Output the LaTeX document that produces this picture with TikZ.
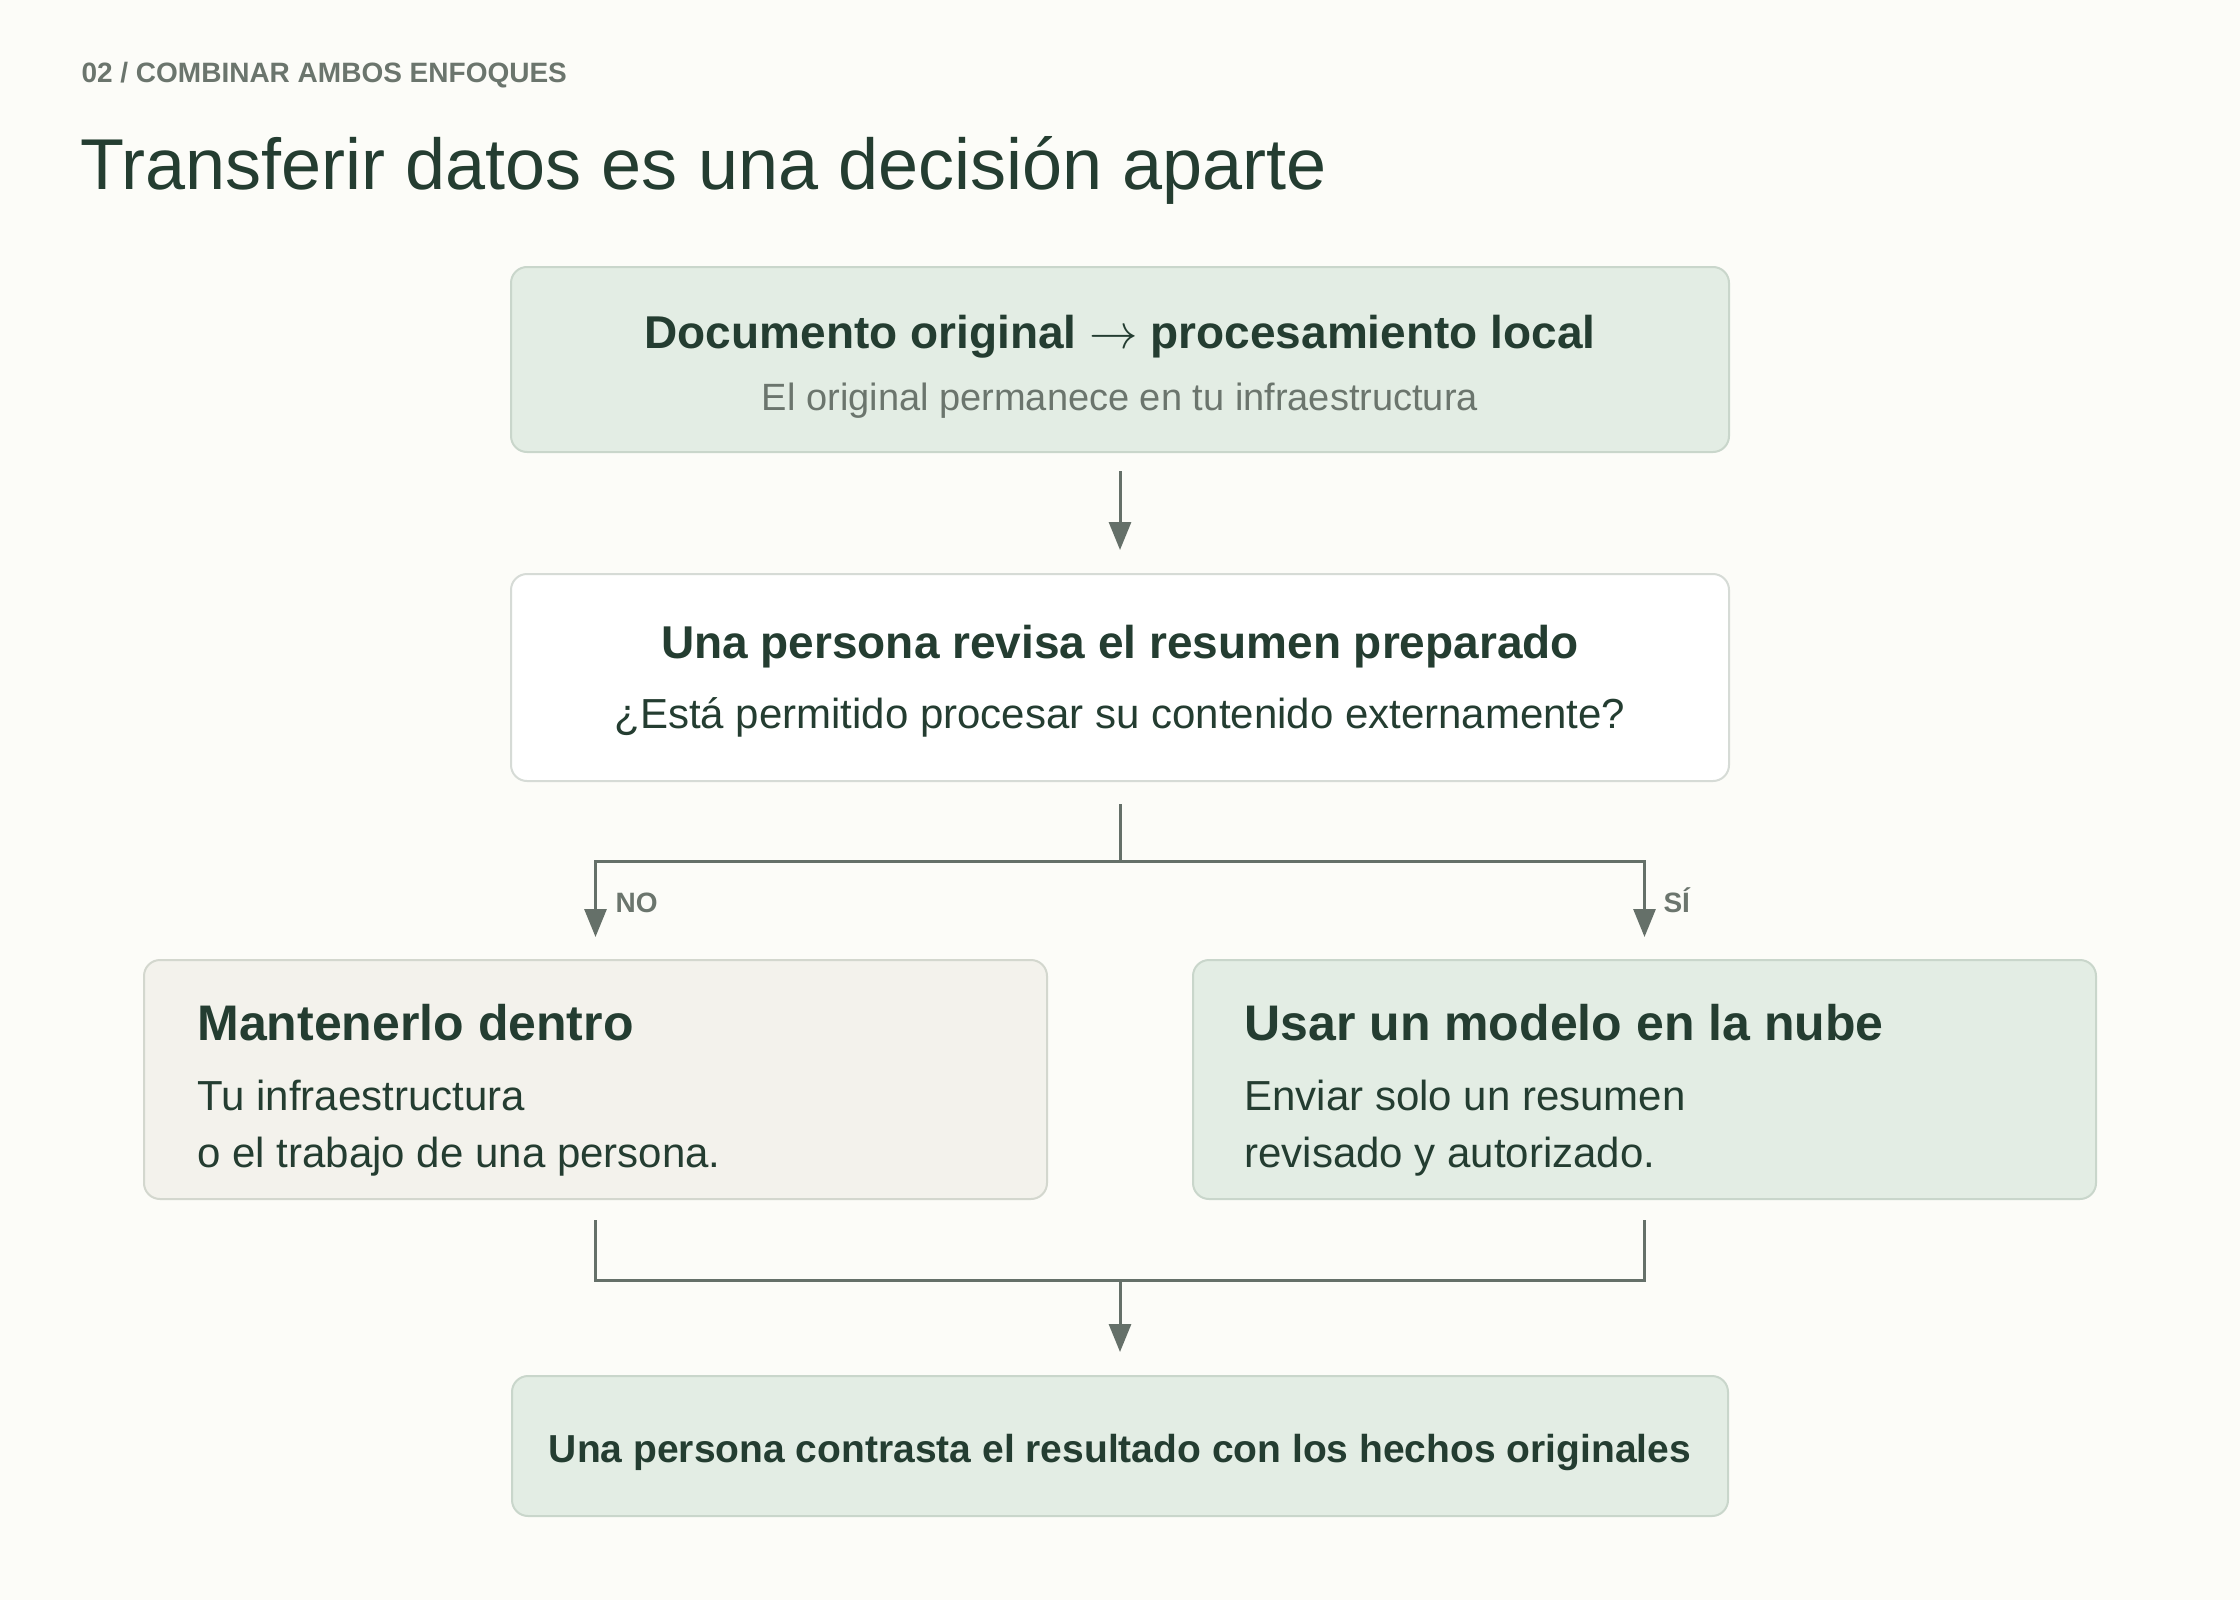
\documentclass[tikz,border=0pt]{standalone}
\usepackage{graphicx}
\usepackage{fontspec}
\setmainfont{Liberation Sans}
\usetikzlibrary{arrows.meta}
\definecolor{bg}{HTML}{FCFCF8}
\definecolor{darktext}{HTML}{243D31}
\definecolor{graytext}{HTML}{6B756D}
\definecolor{linegray}{HTML}{657069}
\definecolor{boxgreen}{HTML}{E3EDE4}
\definecolor{bordergreen}{HTML}{C9D6CB}
\definecolor{boxbeige}{HTML}{F3F2EC}
\definecolor{borderbeige}{HTML}{D3D7CE}
\definecolor{borderwhite}{HTML}{D6DBD6}
\begin{document}
\begin{tikzpicture}[x=1pt,y=-1pt,
  box/.style={draw, line width=2pt, rounded corners=16pt, inner sep=0pt, outer sep=0pt},
  greenbox/.style={box, fill=boxgreen, draw=bordergreen},
  beigebox/.style={box, fill=boxbeige, draw=borderbeige},
  whitebox/.style={box, fill=white, draw=borderwhite},
  conn/.style={draw=linegray, line width=3pt},
  arr/.style={conn, -{Triangle[width=22pt,length=28pt]}},
  boxtitle/.style={font=\fontsize{46}{55}\selectfont\bfseries, text=darktext, anchor=base},
  sidetitle/.style={font=\fontsize{50}{60}\selectfont\bfseries, text=darktext, anchor=base west},
  bodytext/.style={font=\fontsize{42}{50}\selectfont, text=darktext},
  smalllabel/.style={font=\fontsize{28}{34}\selectfont\bfseries, text=graytext, anchor=base west}
]
\useasboundingbox (0,0) rectangle (2240,1600);
\fill[bg] (0,0) rectangle (2240,1600);

% header
\node[smalllabel] (kicker) at (78,83) {02 / COMBINAR AMBOS ENFOQUES};
\node[font=\fontsize{72}{86}\selectfont, text=darktext, anchor=base west] (title) at (77,189) {Transferir datos es una decisión aparte};

% boxes
\node[greenbox, minimum width=1218pt, minimum height=185pt] (b1) at (1120,359.5) {};
\node[whitebox, minimum width=1218pt, minimum height=207pt] (b2) at (1120,677.5) {};
\node[beigebox, minimum width=903pt, minimum height=239pt] (b3) at (595.5,1079.5) {};
\node[greenbox, minimum width=903pt, minimum height=239pt] (b4) at (1644.5,1079.5) {};
\node[greenbox, minimum width=1216pt, minimum height=140pt] (b5) at (1120,1446) {};

% box texts
\node[boxtitle] (b1t) at (1120,348) {Documento original \scalebox{1.95}{$\rightarrow$} procesamiento local};
\node[font=\fontsize{38}{45}\selectfont, text=graytext, anchor=base] (b1s) at (1120,410) {El original permanece en tu infraestructura};

\node[boxtitle] (b2t) at (1120,658) {Una persona revisa el resumen preparado};
\node[bodytext, anchor=base] (b2s) at (1120,728) {¿Está permitido procesar su contenido externamente?};

\node[sidetitle] (b3t) at (194,1040) {Mantenerlo dentro};
\node[bodytext, anchor=base west] (b3a) at (194,1110) {Tu infraestructura};
\node[bodytext, anchor=base west] (b3b) at (194,1167) {o el trabajo de una persona.};

\node[sidetitle] (b4t) at (1241,1040) {Usar un modelo en la nube};
\node[bodytext, anchor=base west] (b4a) at (1241,1110) {Enviar solo un resumen};
\node[bodytext, anchor=base west] (b4b) at (1241,1167) {revisado y autorizado.};

\node[font=\fontsize{39}{47}\selectfont\bfseries, text=darktext, anchor=base] (b5t) at (1120,1462) {Una persona contrasta el resultado con los hechos originales};

% connectors
\coordinate (split) at (1120,861);
\coordinate (merge) at (1120,1280);

\draw[arr, shorten <=19pt, shorten >=24pt] (b1.south) -- (b2.north);
\draw[conn, shorten <=23pt] (b2.south) -- (split);
\draw[arr, shorten >=23pt] (split) -| (b3.north);
\draw[arr, shorten >=23pt] (split) -| (b4.north);
\draw[conn, shorten <=21pt] (b3.south) |- (merge);
\draw[conn, shorten <=21pt] (b4.south) |- (merge);
\draw[arr, shorten >=24pt] (merge) -- (b5.north);

\node[smalllabel] (no) at (612,912) {NO};
\node[smalllabel] (si) at (1660,912) {SÍ};
\end{tikzpicture}
\end{document}
